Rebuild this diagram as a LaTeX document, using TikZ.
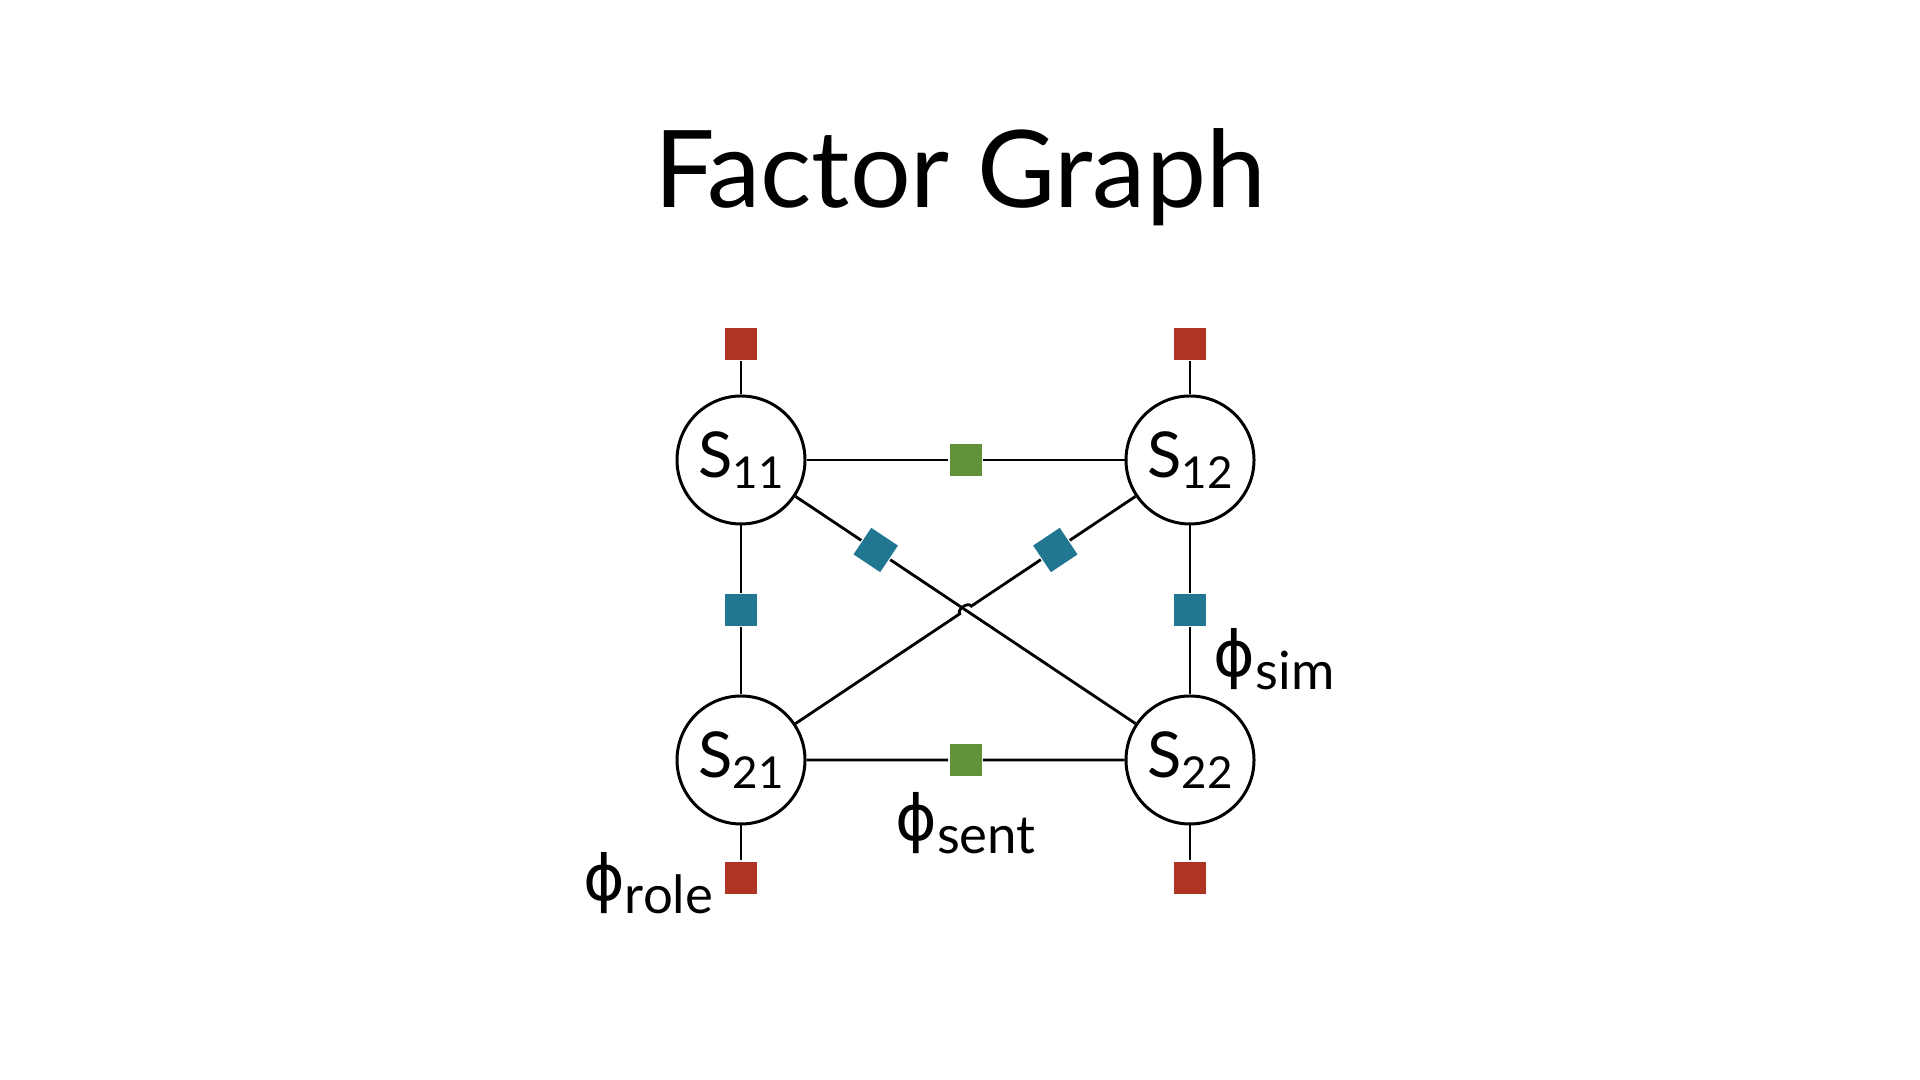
\documentclass[tikz,border=0pt]{standalone}
\usepackage{fontspec}
\setmainfont{Lato}
\newfontfamily\phifont{DejaVu Sans}
\usetikzlibrary{positioning,calc}

\definecolor{rolered}{RGB}{176,52,36}
\definecolor{sentgreen}{RGB}{97,145,58}
\definecolor{simblue}{RGB}{33,118,146}

\newcommand{\svar}[1]{S\raisebox{-0.35ex}{\fontsize{12.5}{12.5}\selectfont #1}}
\newcommand{\flabel}[1]{{\phifont ϕ}\raisebox{-0.4ex}{\fontsize{15}{15}\selectfont #1}}

\tikzset{
    every path/.style={line width=0.8pt},
    var/.style={circle, draw, line width=0.85pt, minimum size=1.28cm, inner sep=0pt, font=\fontsize{18}{18}\selectfont},
    fac/.style={rectangle, minimum size=0.32cm, inner sep=0pt},
    rolefac/.style={fac, fill=rolered},
    sentfac/.style={fac, fill=sentgreen},
    simfac/.style={fac, fill=simblue},
    flab/.style={inner sep=0pt, font=\fontsize{18}{18}\selectfont}
}

\begin{document}
\begin{tikzpicture}
    \useasboundingbox (0,0) rectangle (19.2,10.8);
    \node (title) at (9.6,9.03) {\fontsize{30.5}{30.5}\selectfont Factor Graph};

    % variables
    \node[var] (s11) at (7.41,6.2) {\svar{11}};
    \node[var] (s12) at (11.9,6.2) {\svar{12}};
    \node[var] (s21) at (7.41,3.2) {\svar{21}};
    \node[var] (s22) at (11.9,3.2) {\svar{22}};

    % role factors
    \node[rolefac, above=0.33cm of s11] (r11) {};
    \node[rolefac, above=0.33cm of s12] (r12) {};
    \node[rolefac, below=0.35cm of s21] (r21) {};
    \node[rolefac, below=0.35cm of s22] (r22) {};

    % sentence factors
    \node[sentfac] (t1) at ($(s11)!0.5!(s12)$) {};
    \node[sentfac] (t2) at ($(s21)!0.5!(s22)$) {};

    % similarity factors
    \node[simfac] (m1) at ($(s11)!0.5!(s21)$) {};
    \node[simfac] (m2) at ($(s12)!0.5!(s22)$) {};
    \node[simfac, rotate=-33.7] (m3) at ($(s11)!0.3!(s22)$) {};
    \node[simfac, rotate=33.7] (m4) at ($(s21)!0.7!(s12)$) {};

    % edges
    \draw (s11) -- (r11);
    \draw (s12) -- (r12);
    \draw (s21) -- (r21);
    \draw (s22) -- (r22);
    \draw (s11) -- (t1) -- (s12);
    \draw (s21) -- (t2) -- (s22);
    \draw (s11) -- (m1) -- (s21);
    \draw (s12) -- (m2) -- (s22);
    \draw (s11) -- (m3) -- (s22);

    % crossing with a hop
    \coordinate (x) at ($(s11)!0.5!(s22)$);
    \coordinate (hopa) at ($(x)!0.07cm!(s21)$);
    \coordinate (hopb) at ($(x)!0.07cm!(s12)$);
    \draw (s21) -- (hopa) to[bend left=90] (hopb) -- (m4) -- (s12);

    % labels
    \node[flab, left=0.09cm of r21, yshift=-0.05cm] (lrole) {\flabel{role}};
    \node[flab, below right=0cm and 0.05cm of m2] (lsim) {\flabel{sim}};
    \node[flab, below=0.14cm of t2] (lsent) {\flabel{sent}};
\end{tikzpicture}
\end{document}
